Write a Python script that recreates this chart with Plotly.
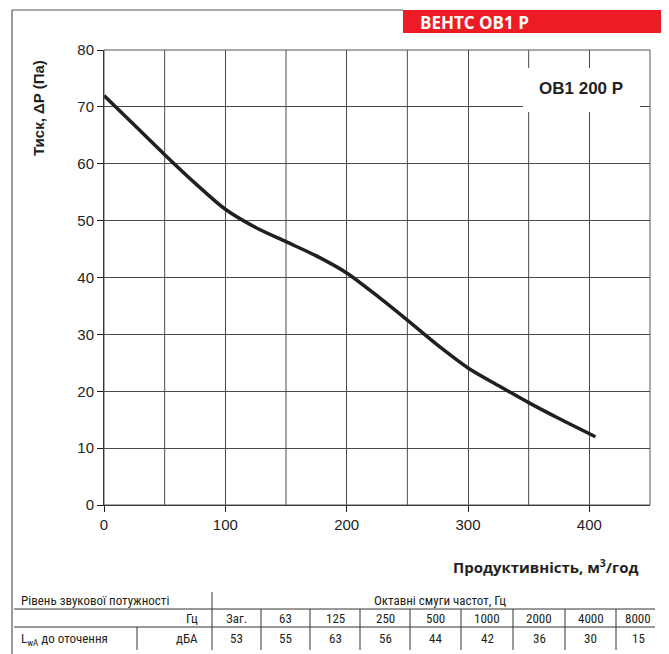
import plotly.graph_objects as go

# ---- data ----
flow = [0, 25, 50, 75, 100, 125, 150, 175, 200, 225, 250, 275, 300, 325, 350, 375, 405]
pressure = [72, 66.8, 61.6, 56.6, 52, 48.8, 46.3, 43.8, 40.8, 36.8, 32.5, 28.1, 24.1, 21, 18, 15.2, 12]

x_ticks = [0, 100, 200, 300, 400]
y_ticks = [0, 10, 20, 30, 40, 50, 60, 70, 80]

freq_labels = ["Заг.", "63", "125", "250", "500", "1000", "2000", "4000", "8000"]
sound_levels = [53, 55, 63, 56, 44, 42, 36, 30, 15]

# screen geometry (page body has an 8px margin)
OFF = 8
SW, SH = 669, 654
L, R, T, B = 104, 650, 50, 505
INK = "#231f20"
GRID = "#4a4a4a"
FONT = "Liberation Sans, Arial, sans-serif"
FONT2 = "Open Sans, Noto Sans, sans-serif"
FONT3 = "Liberation Sans Narrow, Roboto Condensed, Open Sans, sans-serif"


def px(x):
    return (x - L) / (R - L)


def py(y):
    return (B - y) / (B - T)


def note(x, y, text, font, xanchor="center", **kw):
    return dict(xref="paper", yref="paper", x=px(x), y=py(y), text=text,
                showarrow=False, font=font, xanchor=xanchor, yanchor="middle", **kw)


fig = go.Figure()
fig.add_trace(go.Scatter(x=flow, y=pressure, mode="lines",
                         line=dict(color=INK, width=3.5, shape="spline", smoothing=0.8),
                         showlegend=False, hoverinfo="skip"))

fig.update_xaxes(range=[0, 450], tickvals=x_ticks, showgrid=True,
                 gridcolor=GRID, gridwidth=1,
                 showline=True, linecolor=INK, linewidth=1,
                 ticks="outside", ticklen=6, tickcolor=INK,
                 tickfont=dict(family=FONT, size=15, color=INK), zeroline=False,
                 fixedrange=True)
fig.update_yaxes(range=[0, 80], tickvals=y_ticks, showgrid=True, gridcolor=GRID, gridwidth=1,
                 showline=True, linecolor=INK, linewidth=1,
                 ticks="outside", ticklen=6, tickcolor=INK,
                 tickfont=dict(family=FONT, size=15, color=INK), zeroline=False,
                 fixedrange=True)

shapes = []
annotations = []

# extra vertical gridlines at odd multiples of 50
for v in [50, 150, 250, 350]:
    shapes.append(dict(type="line", xref="x", yref="y", x0=v, x1=v, y0=0, y1=80,
                       line=dict(color=GRID, width=1), layer="below"))
# plot box border
shapes.append(dict(type="rect", xref="paper", yref="paper", x0=0, x1=1, y0=0, y1=1,
                   line=dict(color="#555555", width=1)))

# white label box
shapes.append(dict(type="rect", xref="paper", yref="paper",
                   x0=px(523), x1=px(640), y0=py(112), y1=py(68),
                   fillcolor="white", line=dict(width=0)))
annotations.append(note(581, 88, "<b>ОВ1 200 Р</b>", dict(family=FONT, size=17, color=INK)))

# outer frame
frame = "#555555"
shapes.append(dict(type="line", xref="paper", yref="paper", x0=px(12), x1=px(403),
                   y0=py(10), y1=py(10), line=dict(color=frame, width=1.2)))
shapes.append(dict(type="line", xref="paper", yref="paper", x0=px(12), x1=px(12),
                   y0=py(10), y1=py(660), line=dict(color=frame, width=1.2)))
shapes.append(dict(type="line", xref="paper", yref="paper", x0=px(667), x1=px(667),
                   y0=py(10), y1=py(660), line=dict(color="#333333", width=1.5)))
# red header
shapes.append(dict(type="rect", xref="paper", yref="paper", x0=px(403), x1=px(667),
                   y0=py(33), y1=py(10), fillcolor="#ed1c24", line=dict(width=0)))
annotations.append(note(418, 22, "<b>ВЕНТС ОВ1 Р</b>",
                        dict(family=FONT2, size=17, color="white"), xanchor="left"))

# axis titles
annotations.append(note(38, 108, "<b>Тиск, ΔP (Па)</b>",
                        dict(family=FONT, size=15, color=INK), textangle=-90))
annotations.append(note(641, 566, "<b>Продуктивність, м<sup>3</sup>/год</b>",
                        dict(family=FONT2, size=15, color=INK), xanchor="right"))

# sound table
tcol = "#333333"
tfont = dict(family=FONT3, size=13, color=INK)
shapes.append(dict(type="line", xref="paper", yref="paper", x0=px(14), x1=px(655),
                   y0=py(609), y1=py(609), line=dict(color=tcol, width=1)))
shapes.append(dict(type="line", xref="paper", yref="paper", x0=px(14), x1=px(655),
                   y0=py(627), y1=py(627), line=dict(color=tcol, width=1)))
shapes.append(dict(type="line", xref="paper", yref="paper", x0=px(212), x1=px(212),
                   y0=py(592), y1=py(650), line=dict(color=tcol, width=1)))
shapes.append(dict(type="line", xref="paper", yref="paper", x0=px(137), x1=px(137),
                   y0=py(627), y1=py(650), line=dict(color=tcol, width=1)))
col_edges = [212, 261, 310, 360, 410, 461, 513, 565, 616, 660]
for e in col_edges[1:-1]:
    shapes.append(dict(type="line", xref="paper", yref="paper", x0=px(e), x1=px(e),
                       y0=py(609), y1=py(650), line=dict(color=tcol, width=1)))

annotations.append(note(19, 600, "Рівень звукової потужності", tfont, xanchor="left"))
annotations.append(note(440, 600, "Октавні смуги частот, Гц", tfont))
annotations.append(note(200, 618, "Гц", tfont, xanchor="right"))
annotations.append(note(19, 639, "L<sub>wA</sub> до оточення", tfont, xanchor="left"))
annotations.append(note(200, 638, "дБА", tfont, xanchor="right"))
for i, (lab, val) in enumerate(zip(freq_labels, sound_levels)):
    cx = (col_edges[i] + col_edges[i + 1]) / 2
    annotations.append(note(cx, 618, lab, tfont))
    annotations.append(note(cx, 638, str(val), tfont))

fig.update_layout(width=SW - OFF, height=SH - OFF,
                  margin=dict(l=L - OFF, r=SW - R, t=T - OFF, b=SH - B),
                  paper_bgcolor="white", plot_bgcolor="white",
                  shapes=shapes, annotations=annotations, showlegend=False)

fig.write_html("out.html", config={"displayModeBar": False})
